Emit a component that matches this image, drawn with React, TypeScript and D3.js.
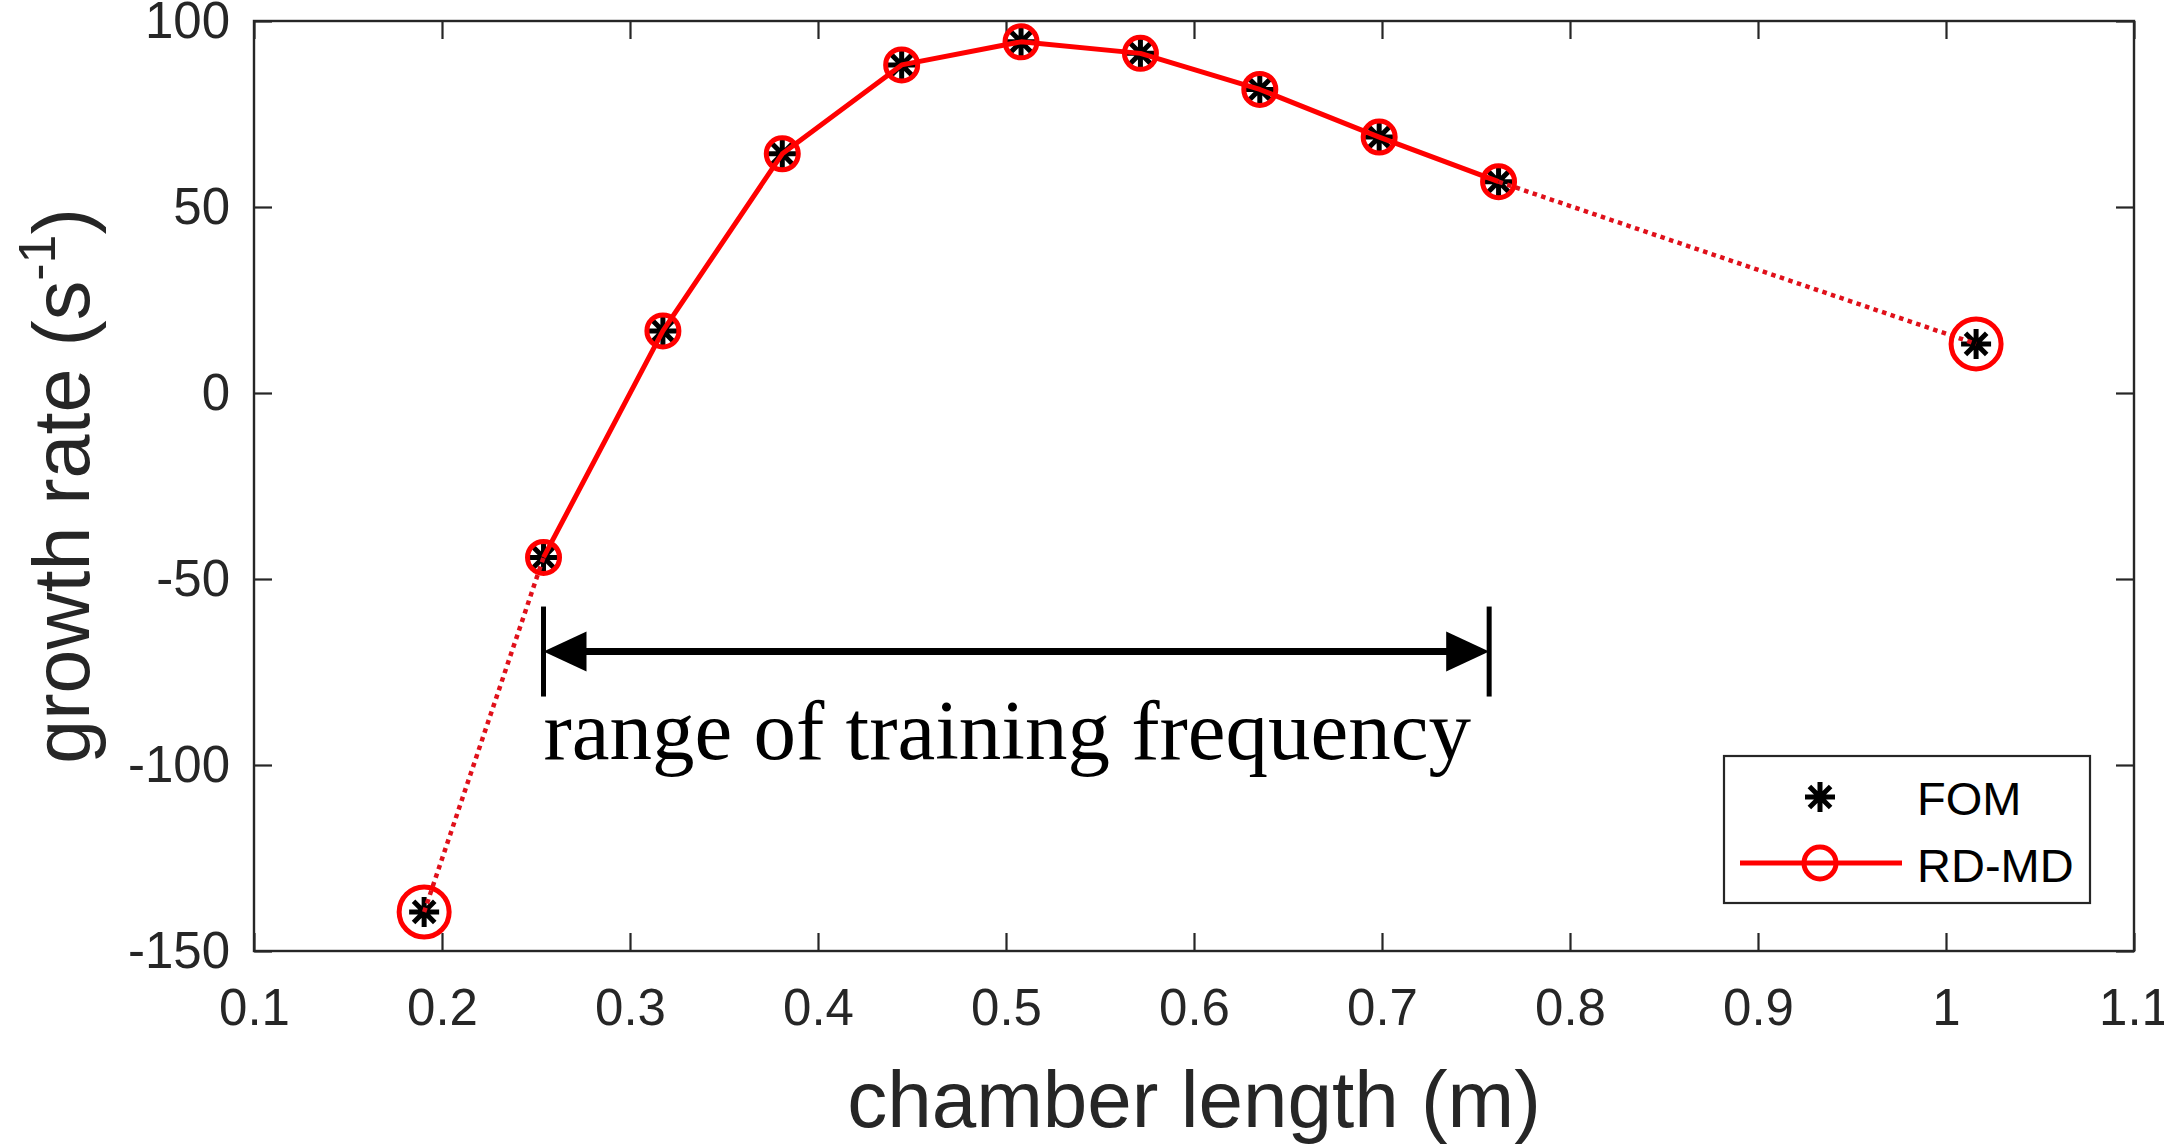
import React, { useEffect, useRef } from "react";
import * as d3 from "d3";

// chamber lengths (m) — 7.5" .. 30" in 2.5" steps, plus 40"
const chamberLengths = [0.1905, 0.254, 0.3175, 0.381, 0.4445, 0.508, 0.5715, 0.635, 0.6985, 0.762, 1.016];
const fomRates = [-139.5, -44.2, 16.7, 64.3, 88.2, 94.4, 91.3, 81.6, 68.8, 56.8, 13.2];
const rdmdRates = [-139.5, -44.2, 16.7, 64.3, 88.2, 94.4, 91.3, 81.6, 68.8, 56.8, 13.2];
const rdmdInTraining = [false, true, true, true, true, true, true, true, true, true, false];

const trainingRange = [0.254, 0.757];
const trainingArrowLevel = -69.5;
const annotationText = "range of training frequency";

const xTickValues = [0.1, 0.2, 0.3, 0.4, 0.5, 0.6, 0.7, 0.8, 0.9, 1.0, 1.1];
const yTickValues = [-150, -100, -50, 0, 50, 100];
const legendLabels = ["FOM", "RD-MD"];

const W = 2164;
const H = 1146;
const margin = { top: 21, right: 30, bottom: 195, left: 254 };

const axisColor = "#262626";
const sansFont = "'Liberation Sans', Arial, Helvetica, sans-serif";
const serifFont = "'Liberation Serif', 'Times New Roman', serif";

const App = () => {
  const svgRef = useRef<SVGSVGElement | null>(null);

  useEffect(() => {
    document.body.style.margin = "0";
    if (!svgRef.current) return;

    const svg = d3.select(svgRef.current);
    svg.selectAll("*").remove();

    const x = d3
      .scaleLinear()
      .domain([xTickValues[0], xTickValues[xTickValues.length - 1]])
      .range([margin.left, W - margin.right]);
    const y = d3
      .scaleLinear()
      .domain([yTickValues[0], yTickValues[yTickValues.length - 1]])
      .range([H - margin.bottom, margin.top]);

    svg.append("rect").attr("width", W).attr("height", H).attr("fill", "#fff");

    const fmt = (d: d3.NumberValue) => String(+(+d).toFixed(1));

    // axes (ticks inward, mirrored on all four sides)
    const styleAxis = (sel: d3.Selection<SVGGElement, unknown, null, undefined>) => {
      sel.select(".domain").remove();
      sel.selectAll(".tick line").attr("stroke", axisColor).attr("stroke-width", 2.2);
      sel
        .selectAll(".tick text")
        .attr("fill", axisColor)
        .attr("font-size", 51)
        .attr("font-family", sansFont);
    };

    svg
      .append("g")
      .attr("transform", `translate(0,${y.range()[0]})`)
      .call(d3.axisBottom(x).tickValues(xTickValues).tickSizeInner(-18).tickSizeOuter(0).tickPadding(38).tickFormat(fmt))
      .call(styleAxis);
    svg
      .append("g")
      .attr("transform", `translate(0,${y.range()[1]})`)
      .call(d3.axisTop(x).tickValues(xTickValues).tickSizeInner(-18).tickSizeOuter(0).tickFormat(() => ""))
      .call(styleAxis);
    svg
      .append("g")
      .attr("transform", `translate(${x.range()[0]},0)`)
      .call(d3.axisLeft(y).tickValues(yTickValues).tickSizeInner(-18).tickSizeOuter(0).tickPadding(24).tickFormat(fmt))
      .call(styleAxis);
    svg
      .append("g")
      .attr("transform", `translate(${x.range()[1]},0)`)
      .call(d3.axisRight(y).tickValues(yTickValues).tickSizeInner(-18).tickSizeOuter(0).tickFormat(() => ""))
      .call(styleAxis);

    svg
      .append("rect")
      .attr("x", x.range()[0])
      .attr("y", y.range()[1])
      .attr("width", x.range()[1] - x.range()[0])
      .attr("height", y.range()[0] - y.range()[1])
      .attr("fill", "none")
      .attr("stroke", axisColor)
      .attr("stroke-width", 2.4);

    // axis titles
    svg
      .append("text")
      .attr("x", (x.range()[0] + x.range()[1]) / 2)
      .attr("y", 1127)
      .attr("text-anchor", "middle")
      .attr("font-size", 80)
      .attr("font-family", sansFont)
      .attr("fill", axisColor)
      .text("chamber length (m)");

    const yTitle = svg
      .append("text")
      .attr("transform", `translate(89,${(y.range()[0] + y.range()[1]) / 2}) rotate(-90)`)
      .attr("text-anchor", "middle")
      .attr("font-size", 79)
      .attr("font-family", sansFont)
      .attr("fill", axisColor);
    yTitle.append("tspan").text("growth rate (s");
    yTitle.append("tspan").attr("font-size", 52).attr("dy", -34).text("-1");
    yTitle.append("tspan").attr("dy", 34).text(")");

    // asterisk marker path
    const asterisk = (cx: number, cy: number, r: number) => {
      const p = d3.path();
      for (let k = 0; k < 4; k++) {
        const a = (k * Math.PI) / 4;
        p.moveTo(cx - r * Math.cos(a), cy - r * Math.sin(a));
        p.lineTo(cx + r * Math.cos(a), cy + r * Math.sin(a));
      }
      return p.toString();
    };

    // FOM asterisks
    svg
      .append("g")
      .selectAll("path")
      .data(chamberLengths)
      .enter()
      .append("path")
      .attr("d", (d, i) => asterisk(x(d), y(fomRates[i]), 15))
      .attr("stroke", "#000")
      .attr("stroke-width", 5)
      .attr("fill", "none");

    // RD-MD lines
    const idx = d3.range(chamberLengths.length);
    const line = d3
      .line<number>()
      .x((i) => x(chamberLengths[i]))
      .y((i) => y(rdmdRates[i]));

    svg
      .append("path")
      .attr("d", line(idx.filter((i) => rdmdInTraining[i])))
      .attr("fill", "none")
      .attr("stroke", "#ff0000")
      .attr("stroke-width", 5)
      .attr("stroke-linejoin", "round");

    const dottedSegments = idx
      .slice(0, -1)
      .filter((i) => !rdmdInTraining[i] || !rdmdInTraining[i + 1])
      .map((i) => [i, i + 1]);
    svg
      .append("g")
      .selectAll("path")
      .data(dottedSegments)
      .enter()
      .append("path")
      .attr("d", (seg) => line(seg))
      .attr("fill", "none")
      .attr("stroke", "#e0101a")
      .attr("stroke-width", 4.5)
      .attr("stroke-dasharray", "4.5 4.5");

    svg
      .append("g")
      .selectAll("circle")
      .data(chamberLengths)
      .enter()
      .append("circle")
      .attr("cx", (d) => x(d))
      .attr("cy", (d, i) => y(rdmdRates[i]))
      .attr("r", (d, i) => (rdmdInTraining[i] ? 16 : 25))
      .attr("fill", "none")
      .attr("stroke", "#ff0000")
      .attr("stroke-width", 5);

    // training range arrow
    const ax0 = x(trainingRange[0]);
    const ax1 = x(trainingRange[1]);
    const ay = y(trainingArrowLevel);
    const head = 43;
    const halfHead = 20;
    const ann = svg.append("g");
    ann
      .append("line")
      .attr("x1", ax0 + head - 2)
      .attr("x2", ax1 - head + 2)
      .attr("y1", ay)
      .attr("y2", ay)
      .attr("stroke", "#000")
      .attr("stroke-width", 7);
    ann
      .selectAll("line.bar")
      .data(trainingRange)
      .enter()
      .append("line")
      .attr("class", "bar")
      .attr("x1", (d) => x(d))
      .attr("x2", (d) => x(d))
      .attr("y1", ay - 45)
      .attr("y2", ay + 45)
      .attr("stroke", "#000")
      .attr("stroke-width", 5);
    ann
      .append("polygon")
      .attr("points", `${ax0},${ay} ${ax0 + head},${ay - halfHead} ${ax0 + head},${ay + halfHead}`)
      .attr("fill", "#000");
    ann
      .append("polygon")
      .attr("points", `${ax1},${ay} ${ax1 - head},${ay - halfHead} ${ax1 - head},${ay + halfHead}`)
      .attr("fill", "#000");
    ann
      .append("text")
      .attr("x", ax0)
      .attr("y", ay + 107)
      .attr("font-size", 85)
      .attr("font-family", serifFont)
      .attr("fill", "#000")
      .text(annotationText);

    // legend
    const lg = svg.append("g").attr("transform", "translate(1724,756)");
    lg.append("rect")
      .attr("width", 366)
      .attr("height", 147)
      .attr("fill", "#fff")
      .attr("stroke", axisColor)
      .attr("stroke-width", 2.2);
    lg.append("path")
      .attr("d", asterisk(96, 41, 15))
      .attr("stroke", "#000")
      .attr("stroke-width", 5);
    lg.append("line")
      .attr("x1", 16)
      .attr("x2", 178)
      .attr("y1", 107)
      .attr("y2", 107)
      .attr("stroke", "#ff0000")
      .attr("stroke-width", 5);
    lg.append("circle")
      .attr("cx", 96)
      .attr("cy", 107)
      .attr("r", 16)
      .attr("fill", "none")
      .attr("stroke", "#ff0000")
      .attr("stroke-width", 5);
    lg.selectAll("text")
      .data(legendLabels)
      .enter()
      .append("text")
      .attr("x", 193)
      .attr("y", (d, i) => 59 + i * 67)
      .attr("font-size", 47)
      .attr("font-family", sansFont)
      .attr("fill", "#000")
      .text((d) => d);
  }, []);

  return <svg ref={svgRef} width={W} height={H} style={{ display: "block" }} />;
};

export default App;
